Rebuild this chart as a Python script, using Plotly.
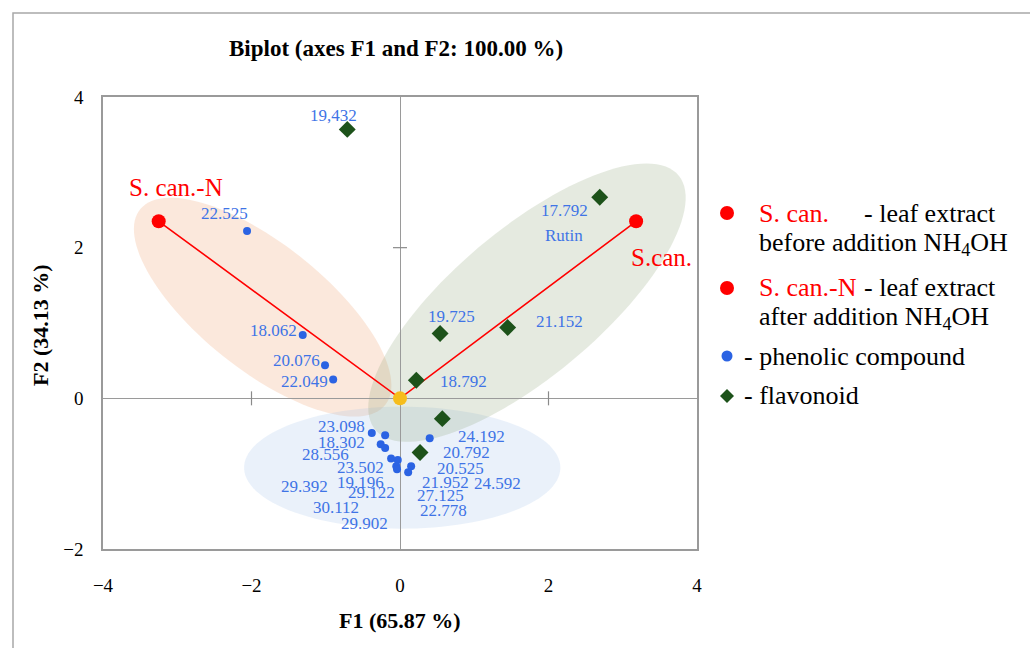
import numpy as np
import plotly.graph_objects as go

# ---------------- data ----------------
samples = ["S.can.", "S. can.-N"]
sample_x = [3.18, -3.25]
sample_y = [2.35, 2.35]

phen_x = [-2.06, -1.31, -1.01, -0.90, -0.38, -0.20, -0.26, -0.20, -0.12, -0.03, -0.05, -0.04, 0.40, 0.15, 0.11]
phen_y = [2.22, 0.84, 0.44, 0.25, -0.46, -0.49, -0.61, -0.66, -0.80, -0.82, -0.90, -0.94, -0.53, -0.90, -0.98]

flav_x = [-0.71, 2.69, 0.54, 1.45, 0.22, 0.57, 0.27]
flav_y = [3.57, 2.67, 0.86, 0.94, 0.24, -0.27, -0.72]

label_text = ["19,432", "22.525", "18.062", "20.076", "22.049", "17.792", "Rutin", "19.725", "21.152", "18.792",
              "23.098", "18.302", "28.556", "23.502", "29.392", "19.196", "29.122", "30.112", "29.902",
              "24.192", "20.792", "20.525", "21.952", "24.592", "27.125", "22.778"]
label_x = [-0.89, -2.37, -1.71, -1.40, -1.29, 2.22, 2.21, 0.70, 2.15, 0.86,
           -0.79, -0.79, -1.00, -0.53, -1.29, -0.53, -0.39, -0.86, -0.48,
           1.10, 0.89, 0.81, 0.61, 1.31, 0.55, 0.58]
label_y = [3.75, 2.46, 0.90, 0.50, 0.23, 2.50, 2.16, 1.08, 1.02, 0.23,
           -0.37, -0.58, -0.74, -0.92, -1.17, -1.12, -1.25, -1.45, -1.66,
           -0.50, -0.72, -0.93, -1.12, -1.13, -1.29, -1.49]

# ellipses: center x, center y, semi-major, semi-minor, angle(deg), fill
ellipses = [
    (-1.85, 1.21, 2.10, 0.84, -38, "rgba(240,165,115,0.25)"),
    (0.03, -0.92, 2.13, 0.81, 0, "rgba(160,190,232,0.22)"),
    (1.71, 1.27, 2.65, 0.98, 39.5, "rgba(135,160,115,0.22)"),
]

SERIF = "Liberation Serif"
RED = "#ff0000"
BLUE_PT = "#2b63e3"
BLUE_TX = "#3f74e6"
GREEN = "#1d521a"

# plot area geometry (pixels)
L, R, T, B = 103, 697, 97, 549
W, H = 1030, 648

def px(xp):
    return (xp - L) / (R - L)

def py(yp):
    return (B - yp) / (B - T)

fig = go.Figure()

shapes = []
for cx, cy, a, b, ang, col in ellipses:
    t = np.linspace(0, 2 * np.pi, 120)
    th = np.deg2rad(ang)
    ex = cx + a * np.cos(t) * np.cos(th) - b * np.sin(t) * np.sin(th)
    ey = cy + a * np.cos(t) * np.sin(th) + b * np.sin(t) * np.cos(th)
    path = "M " + " L ".join(f"{x:.4f},{y:.4f}" for x, y in zip(ex, ey)) + " Z"
    shapes.append(dict(type="path", path=path, xref="x", yref="y", fillcolor=col,
                       line=dict(width=0), layer="below"))

# cross ticks on the origin axes
for tx in [-2, 2]:
    shapes.append(dict(type="line", xref="x", yref="y", x0=tx, x1=tx, y0=-7, y1=7,
                       ysizemode="pixel", yanchor=0, line=dict(color="#8a8a8a", width=1.2)))
shapes.append(dict(type="line", xref="x", yref="y", x0=-7, x1=7, xsizemode="pixel", xanchor=0,
                   y0=2, y1=2, line=dict(color="#8a8a8a", width=1.2)))

# outer frame
shapes.append(dict(type="rect", xref="paper", yref="paper", x0=px(13), x1=px(1100), y0=py(700), y1=py(13),
                   line=dict(color="#a8a8a8", width=1.5), fillcolor="rgba(0,0,0,0)", layer="below"))

# lines from origin to samples
fig.add_trace(go.Scatter(x=[sample_x[0], 0, sample_x[1]], y=[sample_y[0], 0, sample_y[1]], mode="lines",
                         line=dict(color=RED, width=1.6), hoverinfo="skip", showlegend=False))
fig.add_trace(go.Scatter(x=phen_x, y=phen_y, mode="markers",
                         marker=dict(color=BLUE_PT, size=8), showlegend=False))
fig.add_trace(go.Scatter(x=flav_x, y=flav_y, mode="markers",
                         marker=dict(color=GREEN, size=13, symbol="diamond"), showlegend=False))
fig.add_trace(go.Scatter(x=sample_x, y=sample_y, mode="markers",
                         marker=dict(color=RED, size=14), showlegend=False))
fig.add_trace(go.Scatter(x=[0], y=[0], mode="markers",
                         marker=dict(color="#f6bd1c", size=14), showlegend=False))

annotations = []
for t_, x_, y_ in zip(label_text, label_x, label_y):
    annotations.append(dict(x=x_, y=y_, xref="x", yref="y", text=t_, showarrow=False,
                            xanchor="center", yanchor="middle",
                            font=dict(family=SERIF, size=17, color=BLUE_TX)))
# sample labels
annotations.append(dict(x=-3.02, y=2.80, xref="x", yref="y", text="S. can.-N", showarrow=False,
                        xanchor="center", yanchor="middle", font=dict(family=SERIF, size=25, color=RED)))
annotations.append(dict(x=3.52, y=1.87, xref="x", yref="y", text="S.can.", showarrow=False,
                        xanchor="center", yanchor="middle", font=dict(family=SERIF, size=25, color=RED)))

def paper_text(x, y, text, size, angle=0):
    annotations.append(dict(x=px(x), y=py(y), xref="paper", yref="paper", text=text, textangle=angle,
                            showarrow=False, xanchor="center", yanchor="middle",
                            font=dict(family=SERIF, size=size, color="black")))

# title and axis titles
paper_text(396, 48, "<b>Biplot (axes F1 and F2: 100.00 %)</b>", 23)
paper_text(400, 620, "<b>F1 (65.87 %)</b>", 22)
paper_text(40, 325, "<b>F2 (34.13 %)</b>", 22, angle=-90)

# custom legend
LF = 26
def leg_text(x, y, text, color="black"):
    annotations.append(dict(x=px(x), y=py(y), xref="paper", yref="paper", text=text, showarrow=False,
                            xanchor="left", yanchor="middle", font=dict(family=SERIF, size=LF, color=color)))

leg_text(757, 213, "S. can.", RED)
leg_text(862, 213, "- leaf extract")
leg_text(757, 244, "before addition NH<sub>4</sub>OH")
leg_text(757, 287, "S. can.-N", RED)
leg_text(862, 287, "- leaf extract")
leg_text(757, 318, "after addition NH<sub>4</sub>OH")
leg_text(742, 356, "- phenolic compound")
leg_text(742, 395, "- flavonoid")

def leg_circle(x, y, d, color):
    shapes.append(dict(type="circle", xref="paper", yref="paper", xsizemode="pixel", ysizemode="pixel",
                       xanchor=px(x), yanchor=py(y), x0=-d / 2, x1=d / 2, y0=-d / 2, y1=d / 2,
                       fillcolor=color, line=dict(width=0)))

leg_circle(727, 213, 14, RED)
leg_circle(727, 288, 14, RED)
leg_circle(727, 356, 11, BLUE_PT)
shapes.append(dict(type="path", xref="paper", yref="paper", xsizemode="pixel", ysizemode="pixel",
                   xanchor=px(727), yanchor=py(396), path="M 0,7 L 7,0 L 0,-7 L -7,0 Z",
                   fillcolor=GREEN, line=dict(width=0)))

axis_common = dict(showgrid=False, zeroline=True, zerolinecolor="#9a9a9a", zerolinewidth=1.2,
                   showline=True, linecolor="#9a9a9a", linewidth=1.5, mirror=True, ticks="",
                   tickfont=dict(family=SERIF, size=19, color="black"))

fig.update_layout(
    width=W, height=H,
    margin=dict(l=L, r=W - R, t=T, b=H - B),
    paper_bgcolor="white", plot_bgcolor="white",
    xaxis=dict(range=[-4, 4], tickvals=[-4, -2, 0, 2, 4], ticklabelstandoff=18, **axis_common),
    yaxis=dict(range=[-2, 4], tickvals=[-2, 0, 2, 4], ticklabelstandoff=14, **axis_common),
    shapes=shapes, annotations=annotations, showlegend=False,
)

fig.write_html("out.html")
